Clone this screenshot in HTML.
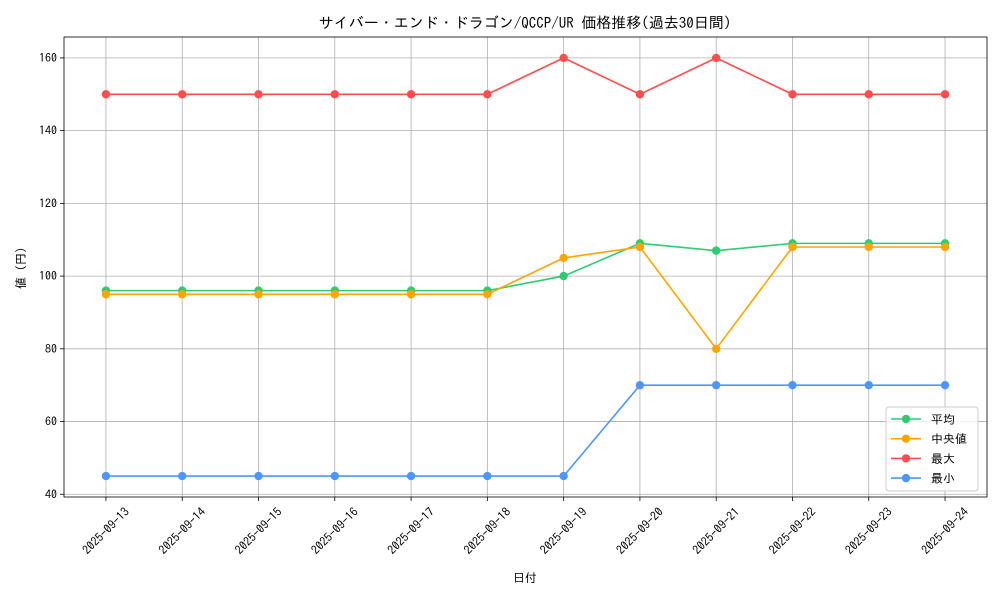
<!DOCTYPE html>
<html><head><meta charset="utf-8">
<style>
body{margin:0;background:#fff;}
svg text{font-family:"IPAGothic","Liberation Sans","Noto Sans CJK JP",sans-serif;fill:#000;}
</style></head>
<body>
<svg id="chart" width="1000" height="600" xmlns="http://www.w3.org/2000/svg">
<rect width="1000" height="600" fill="#fff"/>
<text x="525" y="28" font-size="15" text-anchor="middle">サイバー・エンド・ドラゴン/QCCP/UR 価格推移(過去30日間)</text>
<g id="grid"></g>
<g id="axes"></g>
<g id="series"></g>
<text x="525" y="582" font-size="12" text-anchor="middle">日付</text>
<text x="25" y="268" font-size="12" text-anchor="middle" transform="rotate(-90 25 268)">値 (円)</text>
<g>
<rect x="886" y="407" width="92" height="84" rx="3" fill="#fff" fill-opacity="0.8" stroke="#ccc"/>
<g id="legend-entries"></g>
</g>
</svg>
<script>
const categories=["2025-09-13","2025-09-14","2025-09-15","2025-09-16","2025-09-17","2025-09-18","2025-09-19","2025-09-20","2025-09-21","2025-09-22","2025-09-23","2025-09-24"];
const avgValues=[96,96,96,96,96,96,100,109,107,109,109,109];
const medianValues=[95,95,95,95,95,95,105,108,80,108,108,108];
const maxValues=[150,150,150,150,150,150,160,150,160,150,150,150];
const minValues=[45,45,45,45,45,45,45,70,70,70,70,70];
const yTicks=[40,60,80,100,120,140,160];
const seriesNames=["平均","中央値","最大","最小"];
const seriesColors=["#2ecc71","#ffa500","#ff4d4d","#4d96ff"];

const NS="http://www.w3.org/2000/svg";
const L=64,R=987,T=37,B=497;
const all=[].concat(avgValues,medianValues,maxValues,minValues);
const dmin=Math.min(...all),dmax=Math.max(...all),pad=(dmax-dmin)*0.05;
const y0=dmin-pad,y1=dmax+pad;
const n=categories.length,xm=(n-1)*0.05;
const xs=i=>L+(i+xm)/(n-1+2*xm)*(R-L);
const ys=v=>B-(v-y0)/(y1-y0)*(B-T);
function mk(tag,attrs,parent){const e=document.createElementNS(NS,tag);for(const k in attrs)e.setAttribute(k,attrs[k]);parent.appendChild(e);return e;}
const grid=document.getElementById('grid'),axes=document.getElementById('axes'),ser=document.getElementById('series');
categories.forEach((c,i)=>{
 const x=xs(i);
 const g=mk('line',{x1:x,x2:x,y1:T,y2:B,stroke:'#b0b0b0','stroke-width':0.8},grid);
 
 
 mk('line',{x1:x,x2:x,y1:B,y2:B+4,stroke:'#000','stroke-width':0.8},axes);
 const cy=B+34;
 const t=mk('text',{x:x,y:cy+4,'font-size':12,'text-anchor':'middle',transform:`rotate(-45 ${x} ${cy})`},axes);
 
 
 t.textContent=c;
});
yTicks.forEach(v=>{
 const y=ys(v);
 const g=mk('line',{x1:L,x2:R,y1:y,y2:y,stroke:'#b0b0b0','stroke-width':0.8},grid);
 
 
 mk('line',{x1:L-4,x2:L,y1:y,y2:y,stroke:'#000','stroke-width':0.8},axes);
 const t=mk('text',{x:L-7,y:y+4,'font-size':12,'text-anchor':'end'},axes);
 
 
 t.textContent=v;
});
const frame=mk('rect',{x:L,y:T,width:R-L,height:B-T,fill:'none',stroke:'#000','stroke-width':0.8},axes);


const data=[avgValues,medianValues,maxValues,minValues];
const keys=['avg','median','max','min'];
data.forEach((vals,s)=>{
 const g=mk('g',{},ser);
 
 
 const pl=mk('polyline',{points:vals.map((v,i)=>xs(i)+','+ys(v)).join(' '),fill:'none',stroke:seriesColors[s],'stroke-width':1.6},g);
 
 
 vals.forEach((v,i)=>{
  const c=mk('circle',{cx:xs(i),cy:ys(v),r:4.2,fill:seriesColors[s]},g);
  
  
 });
});
const le=document.getElementById('legend-entries');
seriesNames.forEach((nm,s)=>{
 const y=419+s*19.7;
 const g=mk('g',{},le);
 
 
 mk('line',{x1:891,x2:921,y1:y,y2:y,stroke:seriesColors[s],'stroke-width':1.6},g);
 mk('circle',{cx:906,cy:y,r:4.2,fill:seriesColors[s]},g);
 const t=mk('text',{x:931,y:y+4.5,'font-size':12},g);
 t.textContent=(s===1?' ':'')+nm;
});
</script>
</body></html>
